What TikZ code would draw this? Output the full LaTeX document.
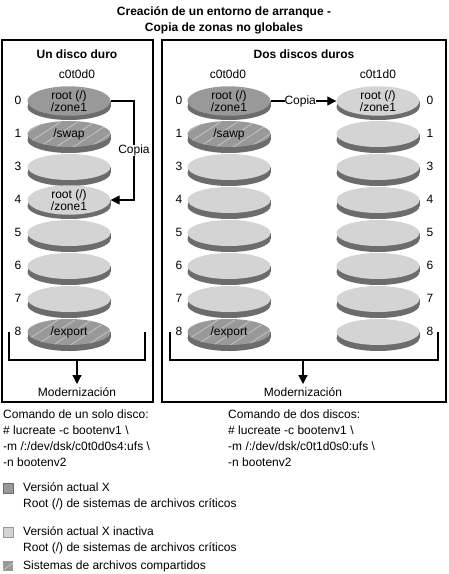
\documentclass[tikz,border=0pt]{standalone}
\usepackage{fontspec}
\setmainfont{Liberation Sans}
\usetikzlibrary{shapes.geometric,arrows.meta}
\definecolor{facelight}{RGB}{212,212,212}
\definecolor{facedark}{RGB}{153,153,153}
\definecolor{rimgray}{RGB}{108,108,108}
\definecolor{hatchgray}{RGB}{200,200,200}

\tikzset{
  face/.style={ellipse, minimum width=83, minimum height=26, inner sep=0pt,
    align=center, font=\fontsize{12}{12}\selectfont},
  hatch/.style={path picture={
    \foreach \k in {-4,...,4}
      \draw[hatchgray, line width=0.7pt, shift={(path picture bounding box.center)}]
        (\k*17-22,15) -- ++(46,-30);}},
  live/.style={face, fill=facedark},
  idle/.style={face, fill=facelight},
  shared/.style={face, fill=facedark, hatch},
  rim/.style={fill=rimgray},
  frame/.style={line width=1.2pt},
  link/.style={line width=1.2pt},
  tip/.style={-{Triangle[length=9pt,width=9pt]}},
  txt/.style={font=\fontsize{12}{16}\selectfont, inner sep=0pt},
  head/.style={txt, font=\fontsize{12}{16}\selectfont\bfseries},
  num/.style={txt},
  keybox/.style={minimum size=10, inner sep=0pt, line width=0.8pt}
}

% disk: name, x, y, kind, label
\newcommand{\disk}[5]{%
  \fill[rim] (#2-41.5,#3) rectangle (#2+41.5,#3+6);
  \fill[rim] (#2,#3+6) ellipse [x radius=41.5, y radius=13];
  \node[#4] (#1) at (#2,#3) {#5};}

\begin{document}
\begin{tikzpicture}[x=1pt, y=-1pt]
\useasboundingbox (0,0) rectangle (448,574);

% title
\node[head, align=center] (title) at (224,20) {Creaci\'on de un entorno de arranque -\\Copia de zonas no globales};

% frames
\draw[frame] (2,40) rectangle (153,402);
\draw[frame] (162,40) rectangle (446,402);

\node[head] (onehd) at (77,54) {Un disco duro};
\node[head] (twohd) at (304,54) {Dos discos duros};
\node[txt] (ldev) at (77,74) {c0t0d0};
\node[txt] (rdev) at (228,74) {c0t0d0};
\node[txt] (sdev) at (378,74) {c0t1d0};

% one disk
\disk{la0}{69}{101}{live}{root (/)\\/zone1}
\disk{la1}{69}{134}{shared}{/swap}
\disk{la3}{69}{167}{idle}{}
\disk{la4}{69}{200}{idle}{root (/)\\/zone1}
\foreach \n/\yy in {5/233,6/266,7/299}
  {\disk{la\n}{69}{\yy}{idle}{}}
\disk{la8}{69}{332}{shared}{/export}

% two disks
\disk{ra0}{229}{101}{live}{root (/)\\/zone1}
\disk{ra1}{229}{134}{shared}{/sawp}
\foreach \n/\yy in {3/167,4/200,5/233,6/266,7/299}
  {\disk{ra\n}{229}{\yy}{idle}{}}
\disk{ra8}{229}{332}{shared}{/export}
\disk{rb0}{378}{101}{idle}{root (/)\\/zone1}
\foreach \n/\yy in {1/134,3/167,4/200,5/233,6/266,7/299,8/332}
  {\disk{rb\n}{378}{\yy}{idle}{}}

% slice numbers
\foreach \n/\yy in {0/101,1/134,3/167,4/200,5/233,6/266,7/299,8/332}{
  \node[num] (lnum\n) at (18,\yy-1) {\n};
  \node[num] (rnum\n) at (179,\yy-1) {\n};
  \node[num] (snum\n) at (430,\yy-1) {\n};
}

% copies
\coordinate (lbend) at (134,101);
\draw[link, tip] (la0.east) -- (lbend) |- node[pos=0.25, fill=white, inner sep=1.5pt, txt] {Copia} (la4.east);
\draw[link, tip] (ra0.east) -- node[pos=0.45, fill=white, inner sep=1.5pt, txt] {Copia} (rb0.west);

% brackets
\coordinate (lbl) at (9,332);
\coordinate (lbr) at (145,332);
\coordinate (lmid) at (77,360);
\draw[link] (lbl) |- (lmid) -| (lbr);
\node[txt, anchor=north] (lup) at (77,387) {Modernizaci\'on};
\draw[link, tip, shorten >=3pt] (lmid) -- (lup.north);

\coordinate (rbl) at (170,332);
\coordinate (rbr) at (438,332);
\coordinate (rmid) at (303,360);
\draw[link] (rbl) |- (rmid) -| (rbr);
\node[txt, anchor=north] (rup) at (303,387) {Modernizaci\'on};
\draw[link, tip, shorten >=3pt] (rmid) -- (rup.north);

% commands
\node[txt, anchor=north west, align=left] (cmdone) at (3,410)
  {Comando de un solo disco:\\\# lucreate -c bootenv1 \textbackslash\\-m /:/dev/dsk/c0t0d0s4:ufs \textbackslash\\-n bootenv2};
\node[txt, anchor=north west, align=left] (cmdtwo) at (228,410)
  {Comando de dos discos:\\\# lucreate -c bootenv1 \textbackslash\\-m /:/dev/dsk/c0t1d0s0:ufs \textbackslash\\-n bootenv2};

% key
\node[keybox, fill=facedark, draw=rimgray] (keylive) at (8,488) {};
\node[keybox, fill=facelight, draw=facedark] (keyidle) at (8,532) {};
\node[keybox, fill=facedark, hatch] (keyshared) at (8,566) {};
\node[txt, anchor=north west, align=left] (keylivetxt) at (23,482)
  {Versi\'on actual X\\Root (/) de sistemas de archivos cr\'iticos};
\node[txt, anchor=north west, align=left] (keyidletxt) at (23,526)
  {Versi\'on actual X inactiva\\Root (/) de sistemas de archivos cr\'iticos};
\node[txt, anchor=north west] (keysharedtxt) at (23,561)
  {Sistemas de archivos compartidos};
\end{tikzpicture}
\end{document}
